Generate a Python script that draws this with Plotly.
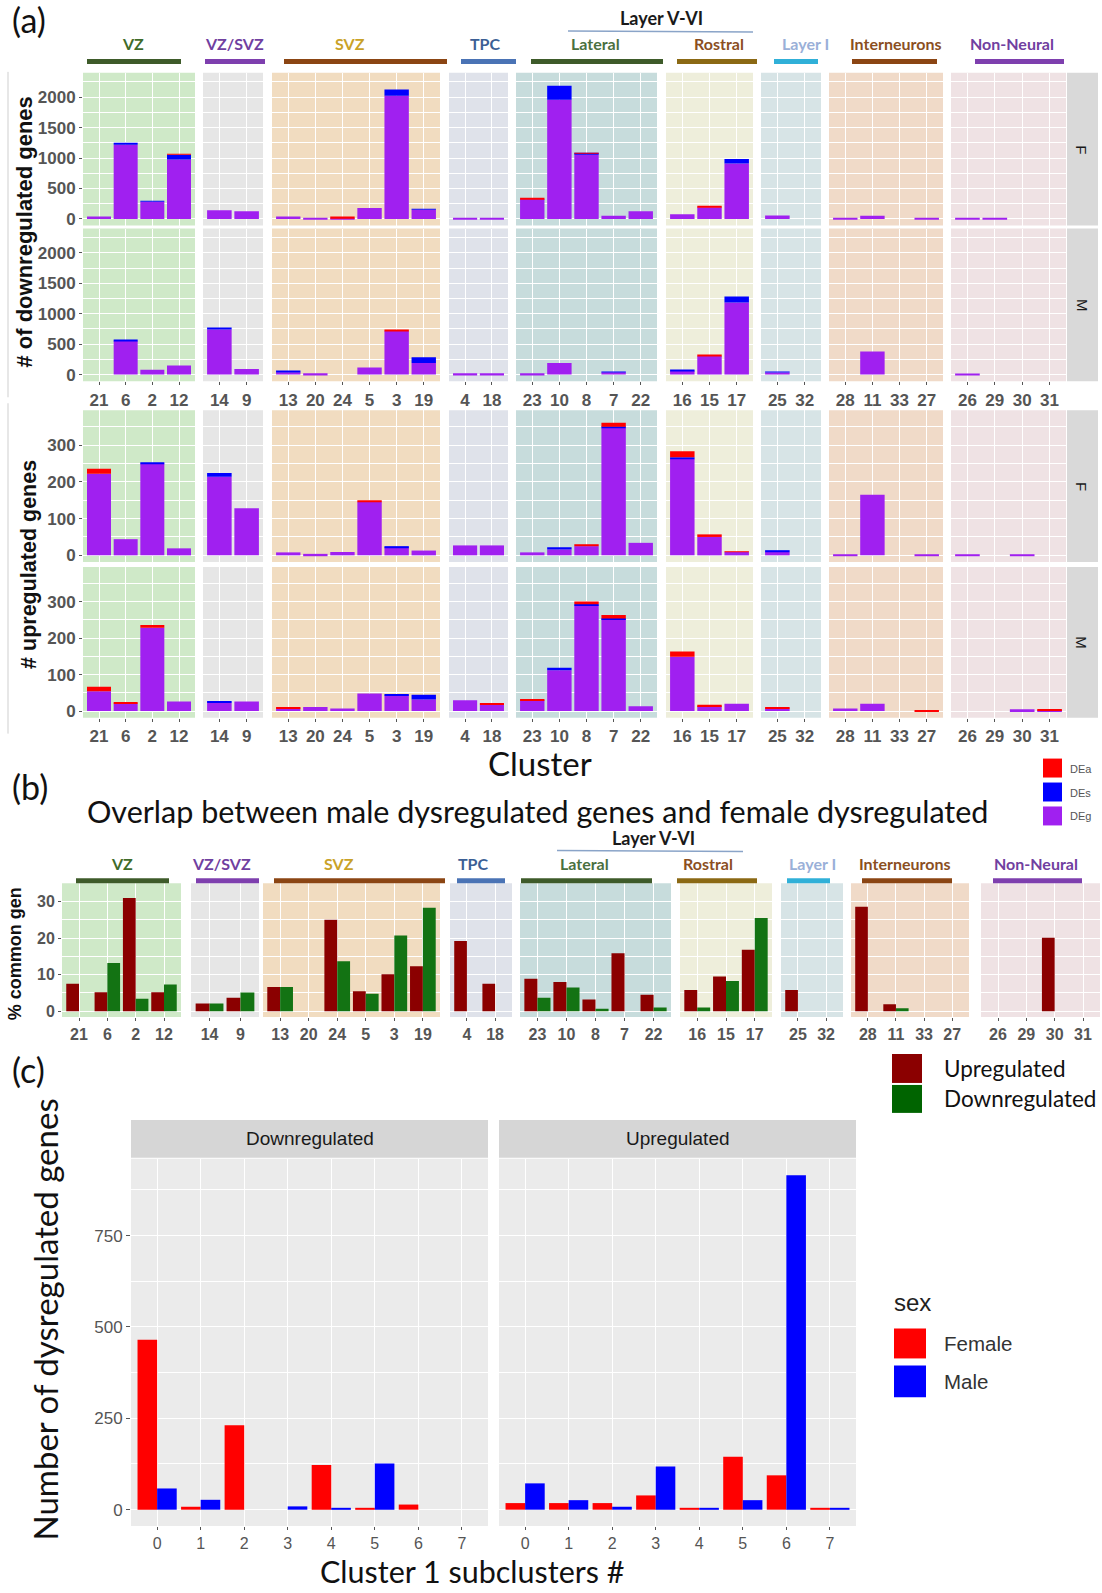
import plotly.graph_objects as go

W, H = 1102, 1593

# ---------------- DATA ----------------
groups = ["VZ", "VZ/SVZ", "SVZ", "TPC", "Lateral", "Rostral", "Layer I", "Interneurons", "Non-Neural"]
group_clusters = [["21", "6", "2", "12"], ["14", "9"], ["13", "20", "24", "5", "3", "19"], ["4", "18"],
                  ["23", "10", "8", "7", "22"], ["16", "15", "17"], ["25", "32"],
                  ["28", "11", "33", "27"], ["26", "29", "30", "31"]]
cluster_order = [c for g in group_clusters for c in g]

# panel (a): number of dysregulated genes, cluster order as cluster_order
down_F_DEg = [40, 1220, 280, 975, 140, 125, 40, 20, 10, 180, 2025, 150, 20, 20, 325, 1960, 1060, 50, 125,
              76, 190, 910, 55, 0, 15, 50, 0, 15, 15, 15, 0, 0]
down_F_DEs = [0, 15, 15, 80, 0, 0, 0, 0, 0, 0, 100, 12, 0, 0, 0, 230, 10, 0, 0,
              0, 0, 76, 0, 0, 0, 0, 0, 0, 0, 0, 0, 0]
down_F_DEa = [0, 0, 0, 5, 0, 0, 0, 0, 30, 0, 0, 0, 0, 0, 8, 0, 15, 0, 0,
              0, 10, 0, 0, 0, 0, 0, 0, 0, 0, 0, 0, 0]

down_M_DEg = [0, 555, 80, 148, 740, 93, 40, 22, 0, 115, 720, 190, 20, 20, 20, 190, 0, 40, 0,
              65, 305, 1185, 35, 0, 0, 380, 0, 0, 15, 0, 0, 0]
down_M_DEs = [0, 20, 0, 0, 30, 0, 15, 0, 0, 0, 0, 95, 0, 0, 0, 0, 0, 5, 0,
              12, 0, 100, 10, 0, 0, 0, 0, 0, 0, 0, 0, 0]
down_M_DEa = [0, 0, 0, 0, 0, 0, 0, 0, 0, 0, 15, 0, 0, 0, 0, 0, 0, 0, 0,
              0, 12, 0, 0, 0, 0, 0, 0, 0, 0, 0, 0, 0]

up_F_DEg = [222, 44, 250, 19, 214, 128, 8, 4, 9, 146, 22, 13, 27, 27, 8, 16, 25, 347, 34,
            263, 50, 9, 9, 0, 3, 165, 0, 3, 3, 0, 3, 0]
up_F_DEs = [0, 0, 3, 0, 10, 0, 0, 0, 0, 0, 3, 0, 0, 0, 0, 6, 0, 3, 0,
            4, 0, 0, 5, 0, 0, 0, 0, 0, 0, 0, 0, 0]
up_F_DEa = [14, 0, 0, 0, 0, 0, 0, 0, 0, 3, 0, 0, 0, 0, 0, 0, 3, 11, 0,
            16, 7, 2, 0, 0, 0, 0, 0, 0, 0, 0, 0, 0]

up_M_DEg = [54, 21, 228, 26, 23, 26, 7, 11, 7, 48, 43, 32, 30, 17, 30, 112, 290, 252, 13,
            149, 14, 20, 7, 0, 7, 20, 0, 0, 0, 0, 5, 3]
up_M_DEs = [0, 0, 0, 0, 3, 0, 0, 0, 0, 0, 3, 13, 0, 0, 0, 7, 3, 2, 0,
            0, 0, 0, 0, 0, 0, 0, 0, 0, 0, 0, 0, 0]
up_M_DEa = [13, 3, 8, 0, 0, 0, 4, 0, 0, 0, 0, 0, 0, 3, 3, 0, 7, 9, 0,
            14, 3, 0, 4, 0, 0, 0, 0, 3, 0, 0, 0, 2]

# panel (b): % common genes
overlap_up = [7.5, 5.2, 31, 5.2, 2.1, 3.7, 6.6, 0, 25, 5.5, 10.1, 12.3, 19.2, 7.5, 8.9, 8.0, 3.2, 15.9, 4.5,
              5.8, 9.5, 16.8, 5.8, 0, 28.6, 1.9, 0, 0, 0, 0, 20.1, 0]
overlap_down = [0, 13.2, 3.4, 7.3, 2.1, 5.1, 6.6, 0, 13.7, 4.8, 20.7, 28.3, 0, 0, 3.7, 6.5, 0.7, 0, 1.0,
                1.0, 8.3, 25.5, 0, 0, 0, 0.8, 0, 0, 0, 0, 0, 0]

# panel (c): cluster 1 subclusters
subclusters = ["0", "1", "2", "3", "4", "5", "6", "7"]
c_down_female = [465, 8, 231, 0, 122, 4, 14, 0]
c_down_male = [58, 27, 0, 9, 5, 126, 0, 0]
c_up_female = [18, 18, 18, 39, 4, 145, 94, 3]
c_up_male = [72, 26, 8, 118, 4, 26, 915, 3]

# ---------------- STYLE ----------------
C_DEG, C_DES, C_DEA = "#A020F0", "#0000FF", "#FF0000"
C_UP, C_DOWN = "#8B0000", "#137313"
C_FEMALE, C_MALE = "#FF0000", "#0000FF"

panel_bg = ["#cfe9c8", "#e6e6e6", "#f1dcc0", "#dfe2ea", "#c7dcdc", "#eeeedb", "#d7e4e6", "#f0dac8", "#efe2e4"]
head_text_col = ["#3f6b2a", "#7040a0", "#c9a227", "#3b5f95", "#4a7040", "#8b4f1f", "#9ab0d8", "#8b4f1f", "#7040a0"]
head_bar_col = ["#3e5b2a", "#7e3fae", "#8b4513", "#4a73b5", "#3e5b2a", "#8b6914", "#30b0d8", "#8b4513", "#7e3fae"]

CAL = "Lato, Open Sans, sans-serif"
ARIAL = "Liberation Sans, Arial, sans-serif"

# layout (pixel positions)
a_panel_x = [(83, 195), (203, 263), (272, 440), (449, 508), (516, 657), (666, 753), (761, 821), (829, 943), (951, 1066)]
a_rows_y = [(73, 226), (229, 382), (411, 563), (568, 719)]
a_head_tx = [133, 234, 350, 485, 595, 719, 805, 896, 1012]
a_head_bar = [(87, 181), (205, 265), (284, 447), (461, 516), (531, 663), (677, 757), (774, 818), (852, 937), (975, 1064)]
b_panel_x = [(62, 181), (191, 259), (263, 440), (450, 512), (520, 671), (680, 772), (781, 843), (851, 969), (981, 1100)]
b_panel_y = (885, 1019)
b_head_tx = [122, 221, 339, 473, 584, 708, 812, 905, 1036]
b_head_bar = [(76, 169), (196, 259), (274, 445), (457, 505), (521, 652), (677, 757), (787, 830), (862, 952), (993, 1082)]


def fx(x):
    return x / W


def fy(y):
    return 1 - y / H


fig = go.Figure()
layout = {}
shapes = []
annotations = []
counter = [0]


def new_subplot(xdom, ydom, xcfg, ycfg):
    counter[0] += 1
    k = counter[0]
    xn = "xaxis" if k == 1 else f"xaxis{k}"
    yn = "yaxis" if k == 1 else f"yaxis{k}"
    xid = "x" if k == 1 else f"x{k}"
    yid = "y" if k == 1 else f"y{k}"
    layout[xn] = dict(domain=[fx(xdom[0]), fx(xdom[1])], anchor=yid, **xcfg)
    layout[yn] = dict(domain=[fy(ydom[1]), fy(ydom[0])], anchor=xid, **ycfg)
    return xid, yid


def rect(x0, y0, x1, y1, color, layer="below"):
    shapes.append(dict(type="rect", xref="paper", yref="paper", x0=fx(x0), x1=fx(x1), y0=fy(y1), y1=fy(y0),
                       fillcolor=color, line=dict(width=0), layer=layer))


def line(x0, y0, x1, y1, color, width):
    shapes.append(dict(type="line", xref="paper", yref="paper", x0=fx(x0), x1=fx(x1), y0=fy(y0), y1=fy(y1),
                       line=dict(color=color, width=width)))


def text(t, x, y, size, color, family=CAL, weight="normal", xanchor="center", yanchor="middle", angle=0):
    annotations.append(dict(text=t, x=fx(x), y=fy(y), xref="paper", yref="paper", showarrow=False,
                            xanchor=xanchor, yanchor=yanchor, textangle=angle,
                            font=dict(family=family, size=size, color=color, weight=weight)))


tick_bold = dict(family=ARIAL, size=17, color="#555555", weight="bold")


def xcfg_cat(cats, show, font=tick_bold, ticklen=3):
    n = len(cats)
    return dict(type="category", categoryorder="array", categoryarray=cats, range=[-0.6, n - 0.4],
                showgrid=True, gridcolor="white", gridwidth=1.1, zeroline=False, showline=False,
                ticks="outside" if show else "", ticklen=ticklen, tickwidth=1, tickcolor="#555555",
                showticklabels=show, tickfont=font, fixedrange=True)


def ycfg_num(rng, major, minor, show, font=tick_bold, ticklen=3):
    return dict(range=rng, tickvals=major, showgrid=True, gridcolor="white", gridwidth=1.1,
                minor=dict(tickvals=minor, showgrid=True, gridcolor="white", gridwidth=0.5),
                zeroline=False, showline=False, ticks="outside" if show else "", ticklen=ticklen,
                tickwidth=1, tickcolor="#555555", showticklabels=show, tickfont=font, fixedrange=True)


# ---------------- PANEL (a) ----------------
rows = [
    (down_F_DEg, down_F_DEs, down_F_DEa, [-110, 2400], [0, 500, 1000, 1500, 2000], [250, 750, 1250, 1750, 2250], "F", False),
    (down_M_DEg, down_M_DEs, down_M_DEa, [-110, 2400], [0, 500, 1000, 1500, 2000], [250, 750, 1250, 1750, 2250], "M", True),
    (up_F_DEg, up_F_DEs, up_F_DEa, [-18, 395], [0, 100, 200, 300], [50, 150, 250, 350], "F", False),
    (up_M_DEg, up_M_DEs, up_M_DEa, [-18, 395], [0, 100, 200, 300], [50, 150, 250, 350], "M", True),
]

for ri, (g_vals, s_vals, a_vals, rng, major, minor, sex, show_x) in enumerate(rows):
    ydom = a_rows_y[ri]
    gmap = dict(zip(cluster_order, g_vals))
    smap = dict(zip(cluster_order, s_vals))
    amap = dict(zip(cluster_order, a_vals))
    for gi, cl in enumerate(group_clusters):
        xdom = a_panel_x[gi]
        rect(xdom[0], ydom[0], xdom[1], ydom[1], panel_bg[gi])
        xid, yid = new_subplot(xdom, ydom, xcfg_cat(cl, show_x), ycfg_num(rng, major, minor, gi == 0))
        deg = [gmap[c] for c in cl]
        des = [smap[c] for c in cl]
        dea = [amap[c] for c in cl]
        base_a = [a + b for a, b in zip(deg, des)]
        fig.add_trace(go.Bar(x=cl, y=deg, xaxis=xid, yaxis=yid, marker=dict(color=C_DEG, line=dict(width=0)),
                             offsetgroup="s", name="DEg", showlegend=False, hoverinfo="skip"))
        fig.add_trace(go.Bar(x=cl, y=des, base=deg, xaxis=xid, yaxis=yid, marker=dict(color=C_DES, line=dict(width=0)),
                             offsetgroup="s", name="DEs", showlegend=False, hoverinfo="skip"))
        fig.add_trace(go.Bar(x=cl, y=dea, base=base_a, xaxis=xid, yaxis=yid, marker=dict(color=C_DEA, line=dict(width=0)),
                             offsetgroup="s", name="DEa", showlegend=False, hoverinfo="skip"))
    # facet strip
    rect(1067, ydom[0], 1098, ydom[1], "#d9d9d9")
    text(sex, 1082, (ydom[0] + ydom[1]) / 2, 15, "#1a1a1a", family=ARIAL, angle=90)

# headers (a)
text("(a)", 10, 20, 34, "#111111", xanchor="left")
text("Layer V-VI", 661, 18, 18, "#1a1a1a", weight="bold")
line(568, 31, 753, 32, "#8aa4c8", 1.5)
for gi, g in enumerate(groups):
    text(g, a_head_tx[gi], 44, 16, head_text_col[gi], weight="bold")
    rect(a_head_bar[gi][0], 59, a_head_bar[gi][1], 64, head_bar_col[gi], layer="above")

text("# of downregulated genes", 25, 233, 22, "#111111", family=ARIAL, weight="bold", angle=-90)
text("# upregulated genes", 29, 566, 21.5, "#111111", family=ARIAL, weight="bold", angle=-90)
line(8, 72, 8, 398, "#cfcfcf", 1)
line(8, 404, 8, 735, "#cfcfcf", 1)
text("Cluster", 540, 764, 33, "#111111")

# legend (a)
for i, (lab, col) in enumerate([("DEa", C_DEA), ("DEs", C_DES), ("DEg", C_DEG)]):
    y0 = 760 + i * 24
    rect(1043, y0, 1062, y0 + 19, col, layer="above")
    text(lab, 1068, y0 + 10, 11, "#555555", family=ARIAL, xanchor="left")

# ---------------- PANEL (b) ----------------
text("(b)", 10, 788, 34, "#111111", xanchor="left")
text("Overlap between male dysregulated genes and female dysregulated", 537, 813, 30.5, "#111111")
text("Layer V-VI", 653, 840, 18, "#1a1a1a", weight="bold")
line(557, 852, 743, 853, "#8aa4c8", 1.5)
umap = dict(zip(cluster_order, overlap_up))
dmap = dict(zip(cluster_order, overlap_down))
tick_bold_b = dict(family=ARIAL, size=16, color="#555555", weight="bold")
for gi, cl in enumerate(group_clusters):
    xdom = b_panel_x[gi]
    rect(xdom[0], b_panel_y[0], xdom[1], b_panel_y[1], panel_bg[gi])
    xid, yid = new_subplot(xdom, b_panel_y, xcfg_cat(cl, True, tick_bold_b),
                           ycfg_num([-1.6, 35], [0, 10, 20, 30], [5, 15, 25], gi == 0, tick_bold_b))
    fig.add_trace(go.Bar(x=cl, y=[umap[c] for c in cl], xaxis=xid, yaxis=yid, offsetgroup="u",
                         marker=dict(color=C_UP, line=dict(width=0)), showlegend=False, hoverinfo="skip"))
    fig.add_trace(go.Bar(x=cl, y=[dmap[c] for c in cl], xaxis=xid, yaxis=yid, offsetgroup="d",
                         marker=dict(color=C_DOWN, line=dict(width=0)), showlegend=False, hoverinfo="skip"))
    text(groups[gi], b_head_tx[gi], 865, 16, head_text_col[gi], weight="bold")
    rect(b_head_bar[gi][0], 880, b_head_bar[gi][1], 885, head_bar_col[gi], layer="above")

text("% common gen", 15, 956, 18, "#111111", family=ARIAL, weight="bold", angle=-90)

# legend (b)
rect(892, 1056, 922, 1085, C_UP, layer="above")
rect(892, 1087, 922, 1115, "#006400", layer="above")
text("Upregulated", 942, 1071, 22.5, "#111111", xanchor="left")
text("Downregulated", 942, 1101, 22.5, "#111111", xanchor="left")

# ---------------- PANEL (c) ----------------
text("(c)", 10, 1072, 34, "#111111", xanchor="left")
c_font = dict(family=ARIAL, size=17, color="#555555")
c_xfont = dict(family=ARIAL, size=16, color="#555555")
c_panels = [("Downregulated", (131, 488), c_down_female, c_down_male, True),
            ("Upregulated", (499, 856), c_up_female, c_up_male, False)]
c_y = (1161, 1529)
for lab, xdom, fem, mal, first in c_panels:
    rect(xdom[0], c_y[0], xdom[1], c_y[1], "#ebebeb")
    rect(xdom[0], 1122, xdom[1], 1160, "#d6d6d6")
    text(lab, (xdom[0] + xdom[1]) / 2, 1141, 19, "#1a1a1a", family=ARIAL)
    xid, yid = new_subplot(xdom, c_y, xcfg_cat(subclusters, True, c_xfont, 3),
                           ycfg_num([-45, 960], [0, 250, 500, 750], [125, 375, 625, 875], first, c_font, 4))
    fig.add_trace(go.Bar(x=subclusters, y=fem, xaxis=xid, yaxis=yid, offsetgroup="f",
                         marker=dict(color=C_FEMALE, line=dict(width=0)), showlegend=False, hoverinfo="skip"))
    fig.add_trace(go.Bar(x=subclusters, y=mal, xaxis=xid, yaxis=yid, offsetgroup="m",
                         marker=dict(color=C_MALE, line=dict(width=0)), showlegend=False, hoverinfo="skip"))

text("Number of dysregulated genes", 45, 1322, 33, "#111111", angle=-90)
text("Cluster 1 subclusters #", 472, 1594, 30.5, "#111111", yanchor="bottom")

# legend (c)
text("sex", 892, 1305, 24, "#222222", family=ARIAL, xanchor="left")
rect(894, 1331, 926, 1361, C_FEMALE, layer="above")
rect(894, 1368, 926, 1400, C_MALE, layer="above")
text("Female", 942, 1346, 20.5, "#333333", family=ARIAL, xanchor="left")
text("Male", 942, 1384, 20.5, "#333333", family=ARIAL, xanchor="left")

fig.update_layout(
    width=W, height=H, margin=dict(l=0, r=0, t=0, b=0),
    paper_bgcolor="white", plot_bgcolor="rgba(0,0,0,0)",
    barmode="group", bargap=0.1, bargroupgap=0, showlegend=False,
    shapes=shapes, annotations=annotations, **layout
)

fig.write_html(
    "out.html",
    config={"displayModeBar": False},
    post_script="document.body.style.margin='0px';document.body.style.overflow='hidden';"
                "document.documentElement.style.overflow='hidden';",
)
